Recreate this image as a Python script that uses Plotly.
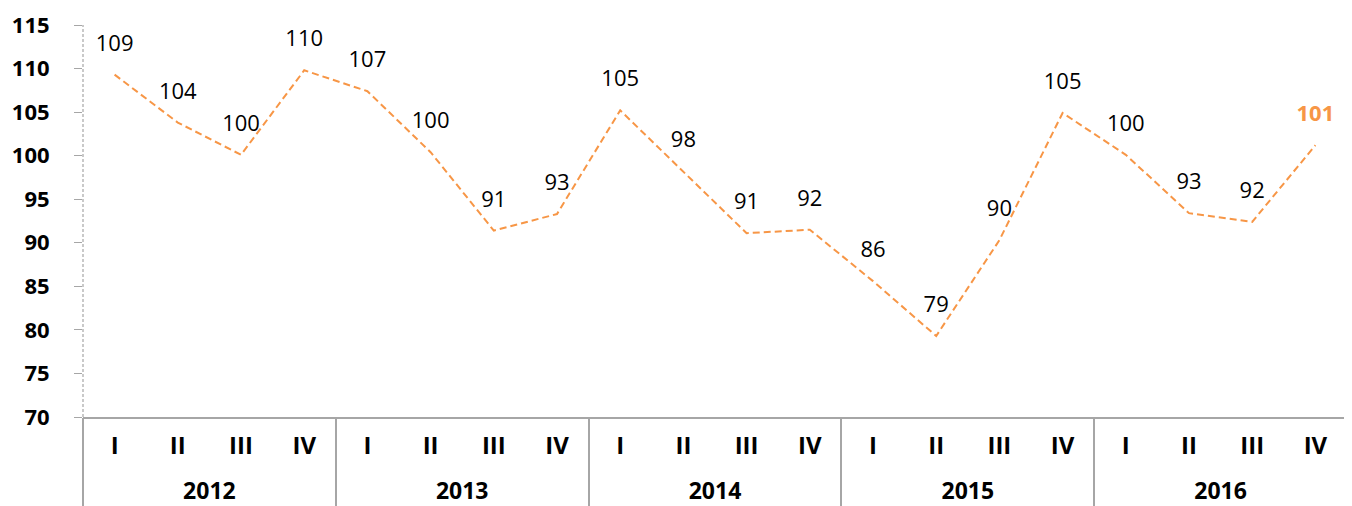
import plotly.graph_objects as go

years = ["2012"] * 4 + ["2013"] * 4 + ["2014"] * 4 + ["2015"] * 4 + ["2016"] * 4
quarters = ["I", "II", "III", "IV"] * 5
values = [109.3, 103.8, 100.1, 109.8,
          107.4, 100.4, 91.4, 93.3,
          105.2, 98.2, 91.1, 91.5,
          85.6, 79.3, 90.3, 104.9,
          100.1, 93.4, 92.4, 101.2]
labels = ["109", "104", "100", "110",
          "107", "100", "91", "93",
          "105", "98", "91", "92",
          "86", "79", "90", "105",
          "100", "93", "92", "<b>101</b>"]
label_colors = ["#000000"] * 19 + ["#F79646"]
y_ticks = [70, 75, 80, 85, 90, 95, 100, 105, 110, 115]

ORANGE = "#F79646"
GREY = "#A6A6A6"
FONT = "Open Sans"

idx = list(range(len(values)))
# year groups: centres and boundaries derived from the category lists
uniq_years = []
for y in years:
    if y not in uniq_years:
        uniq_years.append(y)
year_centres = [sum(i for i in idx if years[i] == y) / years.count(y) for y in uniq_years]
boundaries = [-0.5] + [i + 0.5 for i in idx[:-1] if years[i] != years[i + 1]] + [idx[-1] + 0.5]
xr = [-0.5, idx[-1] + 0.5]

fig = go.Figure()
fig.add_trace(go.Scatter(
    x=idx, y=values,
    mode="lines+markers+text",
    line=dict(color=ORANGE, width=2, dash="7px,4px"),
    marker=dict(size=28, color="rgba(0,0,0,0)"),
    text=labels,
    textposition="top center",
    textfont=dict(family=FONT, size=22, color=label_colors),
    hoverinfo="skip",
    cliponaxis=False,
))
# invisible carriers so the helper axes are drawn
for ax in ("x2", "x3"):
    fig.add_trace(go.Scatter(x=idx, y=values, xaxis=ax, mode="lines",
                             line=dict(color="rgba(0,0,0,0)"), hoverinfo="skip"))

fig.update_layout(
    width=1352, height=498,
    margin=dict(l=75, r=13, t=17, b=89),
    paper_bgcolor="white", plot_bgcolor="white",
    showlegend=False,
    font=dict(family=FONT, color="#000000"),
    yaxis=dict(
        range=[70, 115], tickvals=y_ticks,
        showgrid=False, zeroline=False, showline=False,
        ticks="outside", ticklen=8, tickcolor=GREY, tickwidth=1,
        tickfont=dict(family=FONT, size=22, color="#000000", weight="bold"),
        ticklabelstandoff=20, automargin=False,
    ),
    xaxis=dict(
        range=xr, tickvals=idx, ticktext=quarters,
        showgrid=False, zeroline=False,
        showline=True, linecolor=GREY, linewidth=1.5,
        ticks="", ticklabelstandoff=6, automargin=False,
        tickfont=dict(family=FONT, size=24, color="#000000", weight="bold"),
    ),
    xaxis2=dict(
        overlaying="x", side="bottom", range=xr,
        tickvals=year_centres, ticktext=uniq_years,
        showgrid=False, zeroline=False, showline=False,
        ticks="", ticklabelstandoff=58, automargin=False,
        tickfont=dict(family=FONT, size=23, color="#000000", weight="bold"),
    ),
    xaxis3=dict(
        overlaying="x", side="bottom", range=xr,
        tickvals=boundaries, showticklabels=False,
        showgrid=False, zeroline=False, showline=False,
        ticks="outside", ticklen=100, tickcolor=GREY, tickwidth=1.5,
        automargin=False,
    ),
)
# dashed vertical value axis line
fig.add_shape(type="line", xref="paper", yref="paper", x0=0, x1=0, y0=0, y1=1,
              line=dict(color=GREY, width=1.2, dash="3px,2px"))

fig.write_html("out.html")
